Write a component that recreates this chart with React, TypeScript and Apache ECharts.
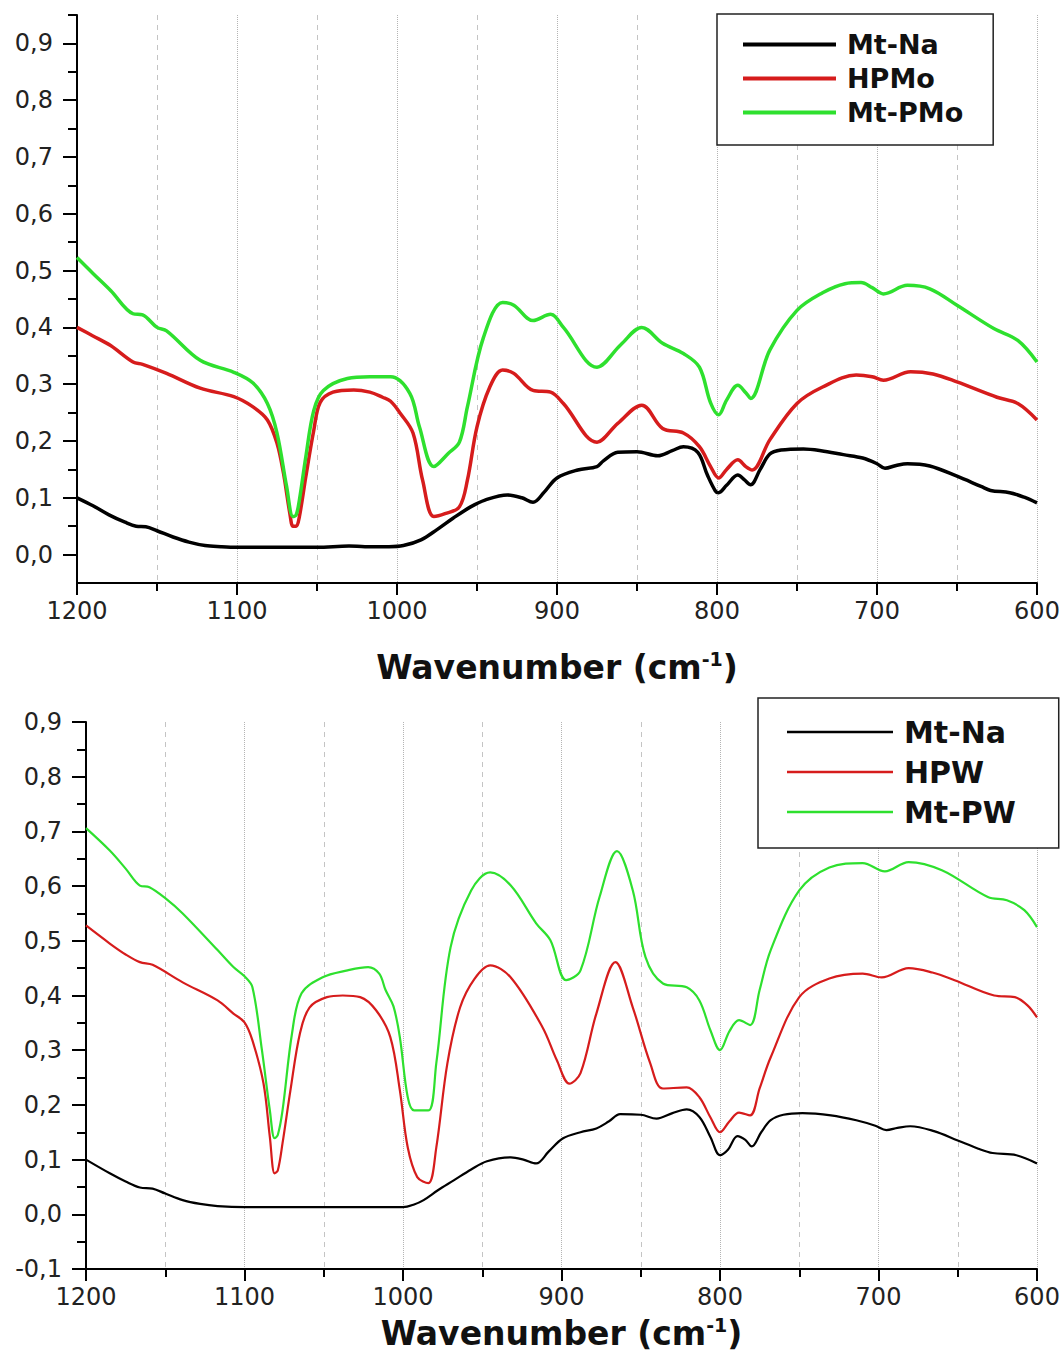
import React, { useEffect, useRef } from "react";
import * as echarts from "echarts";

const FONT = '"DejaVu Sans", "Liberation Sans", sans-serif';

// ---- top panel (HPMo) ----
const topMtNa: [number, number][] = [
  [1200, 0.1], [1190, 0.086], [1180, 0.07], [1170, 0.057], [1163, 0.05], [1157, 0.049], [1150, 0.042],
  [1140, 0.031], [1130, 0.022], [1120, 0.016], [1110, 0.014], [1100, 0.013], [1050, 0.013], [1030, 0.015],
  [1020, 0.014], [1005, 0.014], [996, 0.016], [985, 0.026], [975, 0.044], [965, 0.064], [954, 0.084],
  [945, 0.096], [931, 0.105], [922, 0.1], [915, 0.092], [908, 0.11], [900, 0.135], [887, 0.149], [875, 0.155],
  [871, 0.165], [862, 0.18], [850, 0.181], [837, 0.174], [828, 0.183], [821, 0.19], [812, 0.18], [806, 0.14],
  [801, 0.112], [799, 0.109], [794, 0.122], [787, 0.14], [783, 0.132], [779, 0.123], [773, 0.15], [767, 0.177],
  [760, 0.184], [746, 0.186], [735, 0.183], [721, 0.176], [709, 0.17], [700, 0.16], [695, 0.152], [688, 0.157],
  [681, 0.16], [667, 0.156], [650, 0.138], [635, 0.12], [629, 0.113], [617, 0.109], [608, 0.101], [600, 0.091],
];
const topHPMo: [number, number][] = [
  [1200, 0.4], [1190, 0.385], [1179, 0.368], [1165, 0.339], [1159, 0.335], [1144, 0.319], [1123, 0.293],
  [1102, 0.278], [1090, 0.26], [1081, 0.237], [1075, 0.196], [1071, 0.144], [1067, 0.073], [1065, 0.05],
  [1063, 0.05], [1061, 0.067], [1057, 0.137], [1052, 0.219], [1048, 0.268], [1040, 0.286], [1027, 0.29],
  [1017, 0.286], [1009, 0.277], [1004, 0.27], [998, 0.249], [990, 0.214], [984, 0.131], [977, 0.067],
  [970, 0.072], [961, 0.084], [956, 0.131], [950, 0.225], [942, 0.295], [934, 0.325], [927, 0.319],
  [915, 0.289], [904, 0.286], [896, 0.266], [875, 0.198], [862, 0.231], [847, 0.263], [834, 0.222],
  [821, 0.214], [811, 0.19], [804, 0.155], [799, 0.135], [794, 0.15], [787, 0.167], [782, 0.155], [778, 0.149],
  [767, 0.202], [750, 0.266], [734, 0.295], [713, 0.316], [703, 0.313], [696, 0.307], [679, 0.322],
  [665, 0.318], [650, 0.304], [625, 0.277], [612, 0.266], [600, 0.237],
];
const topMtPMo: [number, number][] = [
  [1200, 0.523], [1190, 0.495], [1179, 0.465], [1165, 0.424], [1159, 0.422], [1150, 0.4], [1144, 0.394],
  [1123, 0.342], [1102, 0.321], [1090, 0.302], [1081, 0.266], [1075, 0.214], [1069, 0.12], [1065, 0.067],
  [1063, 0.07], [1061, 0.096], [1057, 0.172], [1052, 0.254], [1046, 0.289], [1031, 0.31], [1017, 0.313],
  [1004, 0.313], [992, 0.284], [986, 0.225], [977, 0.155], [968, 0.178], [961, 0.198], [956, 0.26],
  [946, 0.382], [934, 0.444], [927, 0.439], [915, 0.412], [904, 0.423], [896, 0.4], [875, 0.33], [860, 0.37],
  [847, 0.4], [834, 0.372], [821, 0.354], [811, 0.33], [804, 0.267], [799, 0.246], [794, 0.272], [787, 0.298],
  [782, 0.285], [779, 0.275], [767, 0.36], [750, 0.43], [734, 0.461], [720, 0.477], [710, 0.479], [703, 0.47],
  [696, 0.459], [681, 0.474], [667, 0.468], [650, 0.439], [627, 0.398], [612, 0.377], [600, 0.339],
];

// ---- bottom panel (HPW) ----
const botMtNa: [number, number][] = [
  [1200, 0.1], [1185, 0.075], [1175, 0.06], [1166, 0.049], [1158, 0.047], [1150, 0.038], [1139, 0.026],
  [1128, 0.019], [1117, 0.015], [1100, 0.013], [1000, 0.013], [993, 0.018], [987, 0.026], [978, 0.044],
  [968, 0.062], [957, 0.082], [947, 0.097], [932, 0.104], [924, 0.1], [916, 0.093], [908, 0.115], [899, 0.139],
  [888, 0.15], [878, 0.157], [870, 0.17], [863, 0.183], [850, 0.182], [840, 0.175], [830, 0.185], [821, 0.192],
  [813, 0.178], [806, 0.141], [800, 0.108], [795, 0.118], [789, 0.143], [784, 0.136], [780, 0.124],
  [774, 0.15], [768, 0.172], [760, 0.182], [748, 0.185], [730, 0.181], [714, 0.172], [702, 0.162],
  [695, 0.154], [688, 0.158], [680, 0.161], [665, 0.152], [650, 0.135], [637, 0.12], [628, 0.112],
  [613, 0.108], [600, 0.093],
];
const botHPW: [number, number][] = [
  [1200, 0.528], [1185, 0.495], [1175, 0.475], [1166, 0.461], [1158, 0.456], [1139, 0.424], [1117, 0.391],
  [1107, 0.367], [1100, 0.351], [1095, 0.318], [1088, 0.239], [1084, 0.141], [1081, 0.075], [1079, 0.08],
  [1076, 0.13], [1071, 0.227], [1065, 0.331], [1059, 0.378], [1048, 0.397], [1038, 0.4], [1027, 0.397],
  [1017, 0.373], [1008, 0.324], [1002, 0.227], [997, 0.122], [991, 0.068], [984, 0.057], [979, 0.122],
  [972, 0.276], [964, 0.378], [955, 0.43], [945, 0.455], [932, 0.433], [912, 0.342], [903, 0.282],
  [895, 0.239], [888, 0.258], [878, 0.367], [866, 0.461], [855, 0.378], [844, 0.276], [836, 0.23],
  [821, 0.232], [813, 0.214], [806, 0.177], [800, 0.15], [794, 0.17], [788, 0.186], [781, 0.181],
  [775, 0.23], [768, 0.287], [750, 0.397], [731, 0.431], [710, 0.44], [698, 0.433], [681, 0.45],
  [666, 0.442], [652, 0.428], [627, 0.4], [614, 0.397], [606, 0.382], [600, 0.36],
];
const botMtPW: [number, number][] = [
  [1200, 0.706], [1185, 0.665], [1175, 0.632], [1166, 0.601], [1160, 0.598], [1150, 0.578], [1139, 0.55],
  [1117, 0.483], [1107, 0.452], [1100, 0.435], [1095, 0.415], [1089, 0.3], [1084, 0.19], [1081, 0.139],
  [1079, 0.145], [1076, 0.19], [1070, 0.331], [1064, 0.404], [1051, 0.433], [1035, 0.446], [1022, 0.452],
  [1015, 0.44], [1011, 0.41], [1006, 0.38], [1002, 0.324], [997, 0.214], [993, 0.19], [984, 0.19],
  [979, 0.276], [970, 0.488], [957, 0.592], [945, 0.625], [932, 0.601], [916, 0.532], [907, 0.501],
  [897, 0.428], [888, 0.446], [876, 0.58], [865, 0.664], [855, 0.592], [847, 0.47], [836, 0.422],
  [821, 0.415], [813, 0.391], [806, 0.336], [800, 0.3], [794, 0.335], [788, 0.355], [781, 0.346],
  [775, 0.41], [768, 0.483], [750, 0.592], [731, 0.634], [710, 0.642], [696, 0.627], [681, 0.644],
  [660, 0.629], [631, 0.58], [619, 0.574], [608, 0.556], [600, 0.525],
];

const topYMajor = [0, 0.1, 0.2, 0.3, 0.4, 0.5, 0.6, 0.7, 0.8, 0.9];
const topYMinor = [0.05, 0.15, 0.25, 0.35, 0.45, 0.55, 0.65, 0.75, 0.85, 0.95];

const BLACK = "#000000";
const RED = "#d61c1c";
const GREEN = "#2ee02e";

const fmt = (v: number) => v.toFixed(1).replace(".", ",");

function xAxisCfg(nameGap: number, lineHeight: number) {
  return {
    type: "value",
    min: 600,
    max: 1200,
    interval: 100,
    inverse: true,
    name: "{a|Wavenumber (cm}{s|-1}{a|)}",
    nameLocation: "middle",
    nameGap,
    nameTextStyle: {
      rich: {
        a: { fontFamily: FONT, fontWeight: "bold", fontSize: 33, color: "#111", lineHeight },
        s: { fontFamily: FONT, fontWeight: "bold", fontSize: 19, color: "#111", lineHeight: 18, verticalAlign: "top" },
      },
    },
    axisLine: { show: true, onZero: false, lineStyle: { color: "#000", width: 2 } },
    axisTick: { show: true, length: 12, lineStyle: { color: "#000", width: 2 } },
    minorTick: { show: true, splitNumber: 2, length: 8, lineStyle: { color: "#000", width: 2 } },
    axisLabel: { fontFamily: FONT, fontSize: 24, color: "#222", margin: 16, formatter: (v: number) => String(v) },
    splitLine: { show: true, lineStyle: { type: "dotted", color: "#b4b4b4", width: 1 } },
    minorSplitLine: { show: true, lineStyle: { type: [5, 5], color: "#c4c4c4", width: 1 } },
  };
}

function lineSeries(name: string, data: [number, number][], color: string, width: number) {
  return {
    type: "line",
    name,
    data,
    smooth: 0.35,
    showSymbol: false,
    symbol: "none",
    lineStyle: { color, width },
    itemStyle: { color },
    z: 3,
  };
}

function legendCfg(left: number, top: number, fontSize: number, itemWidth: number, itemHeight: number, itemGap: number, padding: number[], names: string[]) {
  return {
    show: true,
    orient: "vertical",
    left,
    top,
    icon: "rect",
    itemWidth,
    itemHeight,
    itemGap,
    padding,
    borderColor: "#222",
    borderWidth: 1.5,
    backgroundColor: "#fff",
    selectedMode: false,
    data: names,
    textStyle: { fontFamily: FONT, fontWeight: "bold", fontSize, color: "#111", padding: [0, 0, 0, 6] },
  };
}

export default function App() {
  const topRef = useRef<HTMLDivElement>(null);
  const botRef = useRef<HTMLDivElement>(null);

  useEffect(() => {
    document.body.style.margin = "0";
    const c1 = echarts.init(topRef.current!, null, { renderer: "svg" });
    const c2 = echarts.init(botRef.current!, null, { renderer: "svg" });

    c1.setOption({
      animation: false,
      backgroundColor: "#fff",
      grid: { left: 77, top: 15, width: 960, height: 568, containLabel: false, outerBoundsMode: "none" },
      legend: legendCfg(717, 14, 27, 93, 4, 7, [17, 30, 19, 26], ["Mt-Na", "HPMo", "Mt-PMo"]),
      xAxis: xAxisCfg(66, 36),
      yAxis: [
        {
          type: "value",
          position: "left",
          min: -0.05,
          max: 0.95,
          axisLine: { show: true, onZero: false, lineStyle: { color: "#000", width: 2 } },
          axisTick: { show: true, length: 14, customValues: topYMajor, lineStyle: { color: "#000", width: 2 } },
          axisLabel: { customValues: topYMajor, formatter: fmt, fontFamily: FONT, fontSize: 24, color: "#222", margin: 24 },
          splitLine: { show: false },
        },
        {
          type: "value",
          position: "left",
          min: -0.05,
          max: 0.95,
          axisLine: { show: false, onZero: false },
          axisTick: { show: true, length: 9, customValues: topYMinor, lineStyle: { color: "#000", width: 2 } },
          axisLabel: { show: false },
          splitLine: { show: false },
        },
      ],
      series: [
        lineSeries("Mt-Na", topMtNa, BLACK, 3.5),
        lineSeries("HPMo", topHPMo, RED, 3.5),
        lineSeries("Mt-PMo", topMtPMo, GREEN, 3.5),
      ],
    });

    c2.setOption({
      animation: false,
      backgroundColor: "#fff",
      grid: { left: 86, top: 32, width: 951, height: 547, containLabel: false, outerBoundsMode: "none" },
      legend: legendCfg(758, 8, 30, 106, 2.5, 10, [19, 43, 21, 29], ["Mt-Na", "HPW", "Mt-PW"]),
      xAxis: xAxisCfg(46, 36),
      yAxis: {
        type: "value",
        min: -0.1,
        max: 0.9,
        interval: 0.1,
        axisLine: { show: true, onZero: false, lineStyle: { color: "#000", width: 2 } },
        axisTick: { show: true, length: 14, lineStyle: { color: "#000", width: 2 } },
        minorTick: { show: true, splitNumber: 2, length: 9, lineStyle: { color: "#000", width: 2 } },
        axisLabel: { formatter: fmt, fontFamily: FONT, fontSize: 24, color: "#222", margin: 24 },
        splitLine: { show: false },
      },
      series: [
        lineSeries("Mt-Na", botMtNa, BLACK, 2.2),
        lineSeries("HPW", botHPW, RED, 2.2),
        lineSeries("Mt-PW", botMtPW, GREEN, 2.2),
      ],
    });

    return () => {
      c1.dispose();
      c2.dispose();
    };
  }, []);

  return (
    <div style={{ position: "absolute", left: 0, top: 0, width: 1063, height: 1353, background: "#fff" }}>
      <div ref={topRef} style={{ position: "absolute", left: 0, top: 0, width: 1063, height: 690 }} />
      <div ref={botRef} style={{ position: "absolute", left: 0, top: 690, width: 1063, height: 663 }} />
    </div>
  );
}
